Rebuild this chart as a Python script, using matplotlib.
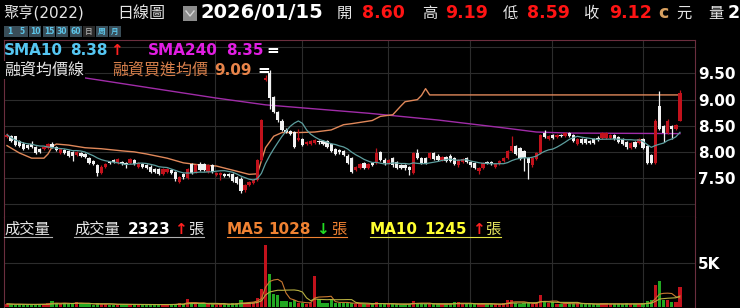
import numpy as np
import pandas as pd
import matplotlib
matplotlib.use("Agg")
import matplotlib.pyplot as plt
from matplotlib.patches import Rectangle
from matplotlib.lines import Line2D

plt.rcParams['font.family'] = ['DejaVu Sans', 'Noto Sans CJK TC']

# daily candles, oldest first
opens = [8.28, 8.31, 8.30, 8.20, 8.16, 8.14, 8.16, 8.10, 8.05, 8.05,
         8.08, 8.16, 8.09, 7.98, 8.04, 8.02, 7.99, 7.94, 7.98, 7.95,
         7.88, 7.82, 7.74, 7.60, 7.72, 7.80, 7.85, 7.78, 7.81, 7.78,
         7.78, 7.84, 7.71, 7.77, 7.75, 7.72, 7.68, 7.68, 7.58, 7.61,
         7.65, 7.62, 7.42, 7.57, 7.50, 7.76, 7.61, 7.76, 7.76, 7.61,
         7.74, 7.56, 7.55, 7.58, 7.58, 7.57, 7.51, 7.49, 7.28, 7.36,
         7.40, 7.46, 7.84, 9.38, 9.50, 9.05, 8.76, 8.60, 8.42, 8.40,
         8.38, 8.22, 8.25, 8.15, 8.16, 8.17, 8.21, 8.20, 8.20, 8.15,
         8.06, 8.04, 8.02, 7.93, 7.88, 7.65, 7.69, 7.79, 7.69, 7.78,
         7.79, 8.00, 7.84, 7.79, 7.88, 7.80, 7.75, 7.75, 7.71, 7.60,
         7.98, 7.88, 7.88, 7.88, 7.98, 7.93, 7.84, 7.90, 7.93, 7.88,
         7.74, 7.81, 7.88, 7.81, 7.78, 7.63, 7.69, 7.81, 7.81, 7.72,
         7.76, 7.83, 7.88, 8.02, 8.12, 8.08, 8.02, 7.88, 7.74, 7.86,
         7.98, 8.37, 8.25, 8.33, 8.29, 8.33, 8.31, 8.37, 8.33, 8.15,
         8.25, 8.25, 8.21, 8.25, 8.27, 8.27, 8.27, 8.27, 8.33, 8.29,
         8.25, 8.19, 8.08, 8.19, 8.17, 8.25, 8.12, 7.94, 7.79, 8.88,
         8.50, 8.37, 8.50, 8.44, 8.60]
highs = [8.36, 8.33, 8.31, 8.22, 8.19, 8.16, 8.20, 8.12, 8.07, 8.12,
         8.17, 8.18, 8.11, 8.07, 8.06, 8.04, 8.01, 8.01, 8.00, 7.97,
         7.90, 7.84, 7.76, 7.74, 7.79, 7.82, 7.87, 7.88, 7.83, 7.80,
         7.88, 7.86, 7.80, 7.79, 7.77, 7.74, 7.70, 7.70, 7.70, 7.70,
         7.67, 7.64, 7.54, 7.59, 7.70, 7.78, 7.76, 7.80, 7.78, 7.76,
         7.76, 7.62, 7.61, 7.60, 7.60, 7.59, 7.53, 7.51, 7.39, 7.45,
         7.49, 7.86, 8.63, 9.47, 9.56, 9.07, 8.78, 8.62, 8.46, 8.42,
         8.40, 8.44, 8.27, 8.20, 8.23, 8.24, 8.23, 8.22, 8.22, 8.17,
         8.08, 8.06, 8.04, 7.95, 7.90, 7.73, 7.79, 7.81, 7.79, 7.80,
         8.07, 8.02, 7.88, 7.86, 7.90, 7.82, 7.77, 7.77, 7.73, 8.00,
         8.05, 7.90, 7.90, 8.00, 8.00, 7.95, 7.92, 7.92, 7.95, 7.90,
         7.86, 7.88, 7.90, 7.83, 7.80, 7.71, 7.81, 7.83, 7.83, 7.78,
         7.85, 7.90, 8.04, 8.31, 8.14, 8.10, 8.04, 7.90, 7.90, 8.00,
         8.35, 8.42, 8.33, 8.35, 8.35, 8.35, 8.39, 8.39, 8.35, 8.27,
         8.27, 8.27, 8.23, 8.27, 8.31, 8.39, 8.39, 8.35, 8.35, 8.31,
         8.27, 8.21, 8.19, 8.21, 8.27, 8.27, 8.14, 7.96, 8.62, 9.17,
         8.52, 8.63, 8.52, 8.54, 9.19]
lows = [8.26, 8.19, 8.12, 8.09, 8.04, 8.06, 8.08, 7.96, 7.98, 8.03,
        8.06, 8.07, 8.02, 7.96, 7.96, 7.91, 7.82, 7.92, 7.90, 7.89,
        7.76, 7.74, 7.53, 7.58, 7.70, 7.76, 7.78, 7.76, 7.75, 7.70,
        7.76, 7.75, 7.69, 7.70, 7.68, 7.60, 7.60, 7.56, 7.56, 7.59,
        7.57, 7.45, 7.40, 7.49, 7.48, 7.58, 7.59, 7.63, 7.64, 7.59,
        7.59, 7.54, 7.46, 7.51, 7.52, 7.43, 7.38, 7.22, 7.24, 7.34,
        7.38, 7.44, 7.82, 9.35, 8.82, 8.74, 8.58, 8.40, 8.36, 8.32,
        8.07, 8.20, 8.12, 8.13, 8.14, 8.15, 8.16, 8.13, 8.08, 8.00,
        7.94, 7.95, 7.92, 7.76, 7.59, 7.63, 7.67, 7.67, 7.67, 7.73,
        7.77, 7.82, 7.75, 7.77, 7.72, 7.67, 7.67, 7.65, 7.56, 7.58,
        7.86, 7.77, 7.77, 7.86, 7.84, 7.82, 7.82, 7.80, 7.80, 7.74,
        7.72, 7.79, 7.79, 7.72, 7.67, 7.58, 7.67, 7.77, 7.74, 7.70,
        7.74, 7.81, 7.86, 8.00, 7.94, 7.84, 7.63, 7.48, 7.72, 7.84,
        7.96, 8.27, 8.23, 8.25, 8.27, 8.29, 8.29, 8.29, 8.19, 8.13,
        8.15, 8.15, 8.15, 8.15, 8.21, 8.25, 8.25, 8.25, 8.23, 8.17,
        8.13, 8.06, 8.06, 8.08, 8.15, 8.06, 7.77, 7.77, 7.77, 8.42,
        8.19, 8.35, 8.25, 8.42, 8.59]
closes = [8.33, 8.21, 8.14, 8.11, 8.06, 8.08, 8.10, 7.98, 8.00, 8.10,
          8.15, 8.09, 8.04, 8.05, 7.98, 7.93, 7.92, 7.99, 7.92, 7.91,
          7.78, 7.76, 7.60, 7.72, 7.77, 7.78, 7.80, 7.86, 7.77, 7.74,
          7.86, 7.77, 7.78, 7.72, 7.70, 7.62, 7.62, 7.58, 7.68, 7.68,
          7.59, 7.48, 7.52, 7.51, 7.68, 7.60, 7.74, 7.65, 7.66, 7.74,
          7.61, 7.60, 7.59, 7.53, 7.54, 7.45, 7.40, 7.25, 7.37, 7.43,
          7.47, 7.84, 8.61, 9.42, 9.03, 8.76, 8.61, 8.42, 8.38, 8.34,
          8.09, 8.26, 8.14, 8.18, 8.21, 8.22, 8.18, 8.15, 8.10, 8.02,
          7.96, 7.99, 7.94, 7.78, 7.61, 7.71, 7.77, 7.69, 7.77, 7.75,
          7.98, 7.84, 7.79, 7.84, 7.74, 7.69, 7.69, 7.69, 7.66, 7.98,
          7.88, 7.79, 7.79, 7.98, 7.86, 7.84, 7.90, 7.82, 7.82, 7.76,
          7.84, 7.86, 7.81, 7.74, 7.69, 7.69, 7.79, 7.79, 7.76, 7.76,
          7.83, 7.88, 8.02, 8.12, 7.96, 7.86, 7.88, 7.78, 7.88, 7.98,
          8.33, 8.29, 8.31, 8.27, 8.33, 8.31, 8.37, 8.31, 8.21, 8.25,
          8.17, 8.17, 8.17, 8.17, 8.23, 8.37, 8.37, 8.33, 8.25, 8.19,
          8.15, 8.10, 8.17, 8.10, 8.25, 8.08, 7.79, 7.79, 8.60, 8.44,
          8.37, 8.60, 8.44, 8.52, 9.12]
volumes = [350, 300, 280, 320, 250, 300, 280, 260, 380, 300,
           400, 680, 450, 300, 420, 300, 500, 550, 380, 300,
           300, 250, 450, 300, 350, 280, 250, 300, 280, 300,
           250, 300, 250, 280, 300, 260, 250, 300, 280, 250,
           300, 350, 500, 300, 950, 400, 350, 300, 350, 350,
           300, 280, 300, 350, 300, 400, 450, 750, 450, 500,
           600, 1060, 2100, 7000, 3700, 1500, 1400, 650, 650, 550,
           750, 400, 400, 350, 500, 3500, 900, 500, 450, 750,
           500, 400, 500, 450, 400, 350, 300, 350, 300, 300,
           600, 400, 300, 300, 350, 300, 250, 300, 350, 700,
           500, 350, 300, 350, 300, 300, 350, 300, 300, 600,
           600, 350, 300, 300, 300, 350, 400, 300, 300, 300,
           350, 400, 850, 850, 500, 350, 400, 450, 350, 400,
           1400, 600, 400, 600, 350, 300, 400, 350, 400, 450,
           350, 300, 350, 300, 300, 400, 400, 350, 300, 350,
           350, 400, 350, 300, 350, 400, 700, 760, 2450, 3000,
           850, 800, 560, 607, 2323]

# SMA240 read at a few days (day index, price)
sma240_day = [0, 22, 51, 63, 88, 105, 121, 129, 137, 164]
sma240_val = [9.64, 9.38, 9.03, 8.90, 8.74, 8.61, 8.46, 8.38, 8.36, 8.35]

# margin buy average price (day index, price)
margin_day = [0, 3, 6, 9, 10, 11, 12, 15, 19, 23, 28, 31, 34, 39, 43, 47, 51,
              56, 59, 61, 62, 63, 65, 67, 71, 75, 79, 82, 84, 89, 91, 94, 96,
              97, 100, 101, 102, 103, 164]
margin_val = [8.12, 7.98, 7.88, 7.88, 7.96, 8.10, 8.15, 8.13, 8.08, 8.06, 8.02,
              8.00, 7.96, 7.88, 7.79, 7.75, 7.73, 7.63, 7.57, 7.58, 7.83, 8.08,
              8.30, 8.37, 8.37, 8.38, 8.42, 8.52, 8.54, 8.60, 8.68, 8.71, 8.88,
              8.96, 9.00, 9.08, 9.21, 9.09, 9.09]

month_starts = [50.7, 71.9, 92.8, 112.8, 132.8, 155.0]
price_ticks = [7.5, 8.0, 8.5, 9.0, 9.5]

W, H = 740, 308
RED = '#c2121c'
GREEN = '#22a822'
FRAME = '#6b2e3e'
GRID = '#2c2c2c'

df = pd.DataFrame({'o': opens, 'h': highs, 'l': lows, 'c': closes, 'v': volumes})
n = len(df)
idx = np.arange(n)
up = df.c >= df.o
sma10 = df.c.rolling(10, min_periods=1).mean()
vma5 = df.v.rolling(5, min_periods=1).mean()
vma10 = df.v.rolling(10, min_periods=1).mean()

fig = plt.figure(figsize=(7.4, 3.08), dpi=100, facecolor='black')


def fx(x):
    return x / W


def fy(y):
    return 1 - y / H


def txt(x, y, s, color, size, bold=False, bg=False):
    kw = {}
    if bg:
        kw['bbox'] = dict(facecolor='black', edgecolor='none', pad=1)
    return fig.text(fx(x), fy(y), s, color=color, fontsize=size,
                    fontweight='bold' if bold else 'normal',
                    va='baseline', ha='left', **kw)


xl = (-3 / 4.104, n - 1 + 15 / 4.104)

# price panel
ax = fig.add_axes([fx(4), fy(217), fx(695) - fx(4), fy(40) - fy(217)])
ax.set_facecolor('black')
for p in np.arange(7.0, 10.01, 0.5):
    ax.axhline(p, color=GRID, lw=0.8, zorder=0)
for m in month_starts:
    ax.axvline(m, color=GRID, lw=0.8, zorder=0)

ax.plot(sma240_day, sma240_val, color='#a02ca8', lw=1.0, zorder=1)
ax.plot(margin_day, margin_val, color='#e0885a', lw=1.0, zorder=1)

cc = np.where(up, RED, '#f2f2f2')
ax.vlines(idx, df.l, df.h, colors=cc, lw=0.9, zorder=2)
body = np.maximum((df.c - df.o).abs(), 0.02)
ax.bar(idx, body, bottom=np.minimum(df.o, df.c), width=0.8, color=cc, zorder=3)
ax.plot(idx, sma10, color='#5d9e9e', lw=0.9, zorder=4)

ax.set_xlim(*xl)
ax.set_ylim(6.754, 10.141)
ax.set_xticks([])
ax.yaxis.tick_right()
ax.set_yticks(price_ticks)
ax.set_yticklabels([f'{p:.2f}' for p in price_ticks], fontweight='bold')
ax.tick_params(axis='y', length=0, pad=2, labelcolor='white', labelsize=11)
for s in ax.spines.values():
    s.set_color(FRAME)

# volume panel
av = fig.add_axes([fx(4), 0, fx(695) - fx(4), fy(217)])
av.set_facecolor('black')
av.axhline(5000, color=GRID, lw=0.8, zorder=0)
for m in month_starts:
    av.axvline(m, color=GRID, lw=0.8, zorder=0)
vc = np.where(up, RED, GREEN)
av.bar(idx, df.v, width=0.8, color=vc, zorder=2)
av.plot(idx, vma5, color='#c87830', lw=0.8, zorder=3)
av.plot(idx, vma10, color='#b8b040', lw=0.8, zorder=3)
av.set_xlim(*xl)
av.set_ylim(-114, 10224)
av.set_xticks([])
av.yaxis.tick_right()
av.set_yticks([5000])
av.set_yticklabels(['5K'], fontweight='bold')
av.tick_params(axis='y', length=0, pad=2, labelcolor='white', labelsize=11)
for s in av.spines.values():
    s.set_color(FRAME)
av.spines['top'].set_visible(False)

# header line
WHITE = '#e6e6e6'
HRED = '#ff1414'
txt(3, 18, '聚亨(2022)', WHITE, 11)
txt(117, 18, '日線圖', WHITE, 11.5)
fig.add_artist(Rectangle((fx(183), fy(21)), 14 / W, 15 / H, transform=fig.transFigure,
                         facecolor='#8c8c8c', edgecolor='none'))
fig.add_artist(Line2D([fx(186), fx(190), fx(194)], [fy(11), fy(16), fy(11)],
                      transform=fig.transFigure, color='#d8d8d8', lw=1))
txt(200, 18, '2026/01/15', 'white', 14, bold=True)
txt(337, 18, '開', WHITE, 11)
txt(362, 18, '8.60', HRED, 12.5, bold=True)
txt(422, 18, '高', WHITE, 11)
txt(445, 18, '9.19', HRED, 12.5, bold=True)
txt(503, 18, '低', WHITE, 11)
txt(527, 18, '8.59', HRED, 12.5, bold=True)
txt(583, 18, '收', WHITE, 11)
txt(609, 18, '9.12', HRED, 12.5, bold=True)
txt(658, 18, 'c', '#d8a060', 12.5, bold=True)
txt(676, 18, '元', WHITE, 11)
txt(708, 18, '量', WHITE, 11)
txt(728, 18, '2', 'white', 12.5, bold=True)

# period buttons
buttons = [(4, '1'), (16, '5'), (29, '10'), (43, '15'), (56, '30'), (70, '60'),
           (83, '日'), (96, '周'), (109, '月')]
for bx, lab in buttons:
    day = lab == '日'
    fig.add_artist(Rectangle((fx(bx), fy(37)), 12 / W, 11 / H, transform=fig.transFigure,
                             facecolor='#2a2a2a' if day else '#394d58', edgecolor='none'))
    fig.text(fx(bx + 6), fy(31.5), lab, color='#a0a0a0' if day else '#5cc6ea',
             fontsize=5.5, fontweight='bold', ha='center', va='center')

# price legends
txt(4, 55, 'SMA10', '#55c6f2', 11, bold=True)
txt(70, 55, '8.38', '#55c6f2', 11, bold=True)
txt(110, 55, '↑', '#ff2020', 11, bold=True)
txt(148, 55, 'SMA240', '#e21ee2', 11, bold=True)
txt(226, 55, '8.35', '#e21ee2', 11, bold=True)
txt(266, 55, '=', 'white', 11, bold=True)
txt(4, 75, '融資均價線', WHITE, 11.5, bg=True)
txt(112, 75, '融資買進均價', '#d8804c', 11.5)
txt(214, 75, '9.09', '#e8844a', 11, bold=True)
txt(257, 75, '=', 'white', 11, bold=True)

# volume legends
txt(4, 234, '成交量', WHITE, 11)
txt(74, 234, '成交量', WHITE, 11)
txt(128, 234, '2323', 'white', 11, bold=True)
txt(174, 234, '↑', '#ff2020', 11, bold=True)
txt(188, 234, '張', WHITE, 11)
txt(227, 234, 'MA5', '#f08232', 11, bold=True)
txt(268, 234, '1028', '#f08232', 11, bold=True)
txt(316, 234, '↓', '#22dd22', 11, bold=True)
txt(331, 234, '張', '#f08232', 11)
txt(370, 234, 'MA10', '#ffff30', 11, bold=True)
txt(424, 234, '1245', '#ffff30', 11, bold=True)
txt(472, 234, '↑', '#ff2020', 11, bold=True)
txt(485, 234, '張', '#e6e660', 11)
for x0, x1, col in [(4, 52, '#b0b0b0'), (74, 204, '#b0b0b0'),
                    (227, 347, '#f08232'), (370, 501, '#e6e640')]:
    fig.add_artist(Line2D([fx(x0), fx(x1)], [fy(237), fy(237)],
                          transform=fig.transFigure, color=col, lw=0.8))

fig.savefig('out.png', dpi=100, facecolor='black')
